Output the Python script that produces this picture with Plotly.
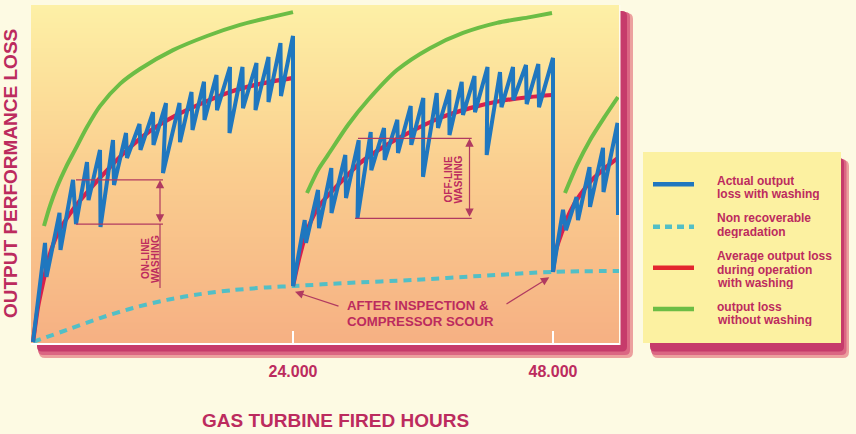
import plotly.graph_objects as go

# ---------------- data (fired hours, output loss %) ----------------
blue_hours = [0, 1108, 1246, 2446, 2538, 3692, 3969, 4984, 5123, 6184, 6231, 7384, 7477,
              8584, 8676, 9830, 9923, 11076, 11122, 12276, 12000, 13522, 13569, 14630, 14723,
              15784, 15830, 16938, 16984, 18183, 18137, 19337, 19383, 20629, 20537, 21737,
              21737, 22844, 22890, 24000, 24000,
              25080, 25200, 26308, 26400, 27535, 27554, 28827, 28892, 30065, 29954, 31172,
              31228, 32400, 32464, 33627, 33692, 34863, 34918, 36028, 36000, 37264, 37385,
              38427, 38445, 39570, 39690, 40752, 40800, 41954, 41880, 43107, 43246, 44308,
              44335, 45506, 45571, 46643, 46708, 48000, 48000,
              48923, 49200, 50169, 50308, 51369, 51415, 52615, 52661, 53954, 54000]
blue_loss = [0, 2.94, 1.93, 3.83, 2.73, 4.81, 3.50, 5.34, 4.21, 5.70, 3.41, 5.99, 4.66,
             6.20, 5.46, 6.47, 5.70, 6.82, 5.85, 7.09, 5.01, 7.09, 5.93, 7.42, 6.29,
             7.72, 6.59, 7.92, 6.88, 8.16, 6.20, 8.16, 6.94, 8.28, 6.88, 8.46,
             7.12, 8.87, 7.30, 9.08, 1.66,
             3.62, 2.94, 4.51, 3.38, 5.16, 3.83, 5.55, 4.27, 5.99, 3.68, 6.23,
             5.10, 6.35, 5.40, 6.59, 5.61, 7.00, 5.85, 7.24, 4.90, 7.39, 6.35,
             7.48, 6.14, 7.72, 6.74, 7.89, 6.82, 8.16, 5.55, 8.01, 6.97, 8.16,
             7.18, 8.22, 7.06, 8.25, 6.97, 8.43, 2.08,
             3.92, 3.32, 4.30, 3.62, 5.19, 4.01, 5.76, 4.45, 6.50, 3.77]

red_hours = [0, 157, 462, 923, 1500, 2308, 3877, 6184, 8492, 10800, 13108, 15415, 18184,
             20953, 23907, None,
             24000, 24646, 25384, 26492, 28154, 30184, 32492, 34800, 37569, 40338, 43107,
             45876, 47907, None,
             48000, 48277, 48830, 49569, 50492, 51600, 52800, 54000]
red_loss = [0, 0.36, 1.04, 1.75, 2.55, 3.23, 4.01, 4.87, 5.64, 6.26, 6.71, 7.06, 7.42,
            7.66, 7.83, None,
            1.66, 2.58, 3.38, 4.07, 4.66, 5.31, 5.82, 6.23, 6.65, 6.94, 7.15,
            7.27, 7.33, None,
            2.08, 2.73, 3.26, 3.86, 4.36, 4.81, 5.16, 5.46]

green_hours = [1015, 1569, 2215, 3046, 3877, 4985, 6184, 8030, 9876, 12922, 16060, 19106,
               21598, 24000, None,
               25292, 26307, 27230, 29076, 30922, 33599, 36645, 39692, 42830, 45876, 47907,
               None,
               49104, 50212, 51412, 52704, 53996]
green_loss = [3.44, 4.04, 4.60, 5.19, 5.70, 6.38, 7.00, 7.66, 8.10, 8.66, 9.08, 9.41,
              9.61, 9.79, None,
              4.42, 5.10, 5.55, 6.44, 7.18, 8.07, 8.72, 9.17, 9.47, 9.64, 9.76,
              None,
              4.42, 5.25, 5.99, 6.65, 7.27]

cyan_hours = [0, 3138, 6185, 9231, 12369, 15415, 18462, 21600, 24000, 28985, 35077,
              41262, 48000, 54092]
cyan_loss = [0, 0.36, 0.71, 1.01, 1.25, 1.42, 1.54, 1.62, 1.66, 1.75, 1.84, 1.96, 2.08, 2.11]

tick_values = [24000, 48000]
tick_labels = ["24.000", "48.000"]

legend_texts = [["Actual output", "loss with washing"],
                ["Non recoverable", "degradation"],
                ["Average output loss", "during operation", "with washing"],
                ["output loss", "without washing"]]

x_title = "GAS TURBINE FIRED HOURS"
y_title = "OUTPUT PERFORMANCE LOSS"
scour_text = ["AFTER INSPECTION &", "COMPRESSOR SCOUR"]

# ---------------- style ----------------
W, H = 856, 434
L, R, T, B = 31, 619, 5, 343
XR = [-185, 54092]
YR = [-0.03, 10.0]

BLUE = "#1f77bf"
RED = "#d81f4d"
RED_LEG = "#e3262e"
GREEN = "#6cbd45"
CYAN = "#52bfc6"
TXT = "#bc2b5e"
ANN = "#b13a60"
FONT = "Liberation Sans, Arial, sans-serif"
PAGE = "#fdfae3"


def PX(p):
    return (p - L) / (R - L)


def PY(p):
    return (B - p) / (B - T)


def rrect(x0, y0, x1, y1, r):
    return (f"M {PX(x0 + r)},{PY(y0)} L {PX(x1 - r)},{PY(y0)} "
            f"Q {PX(x1)},{PY(y0)} {PX(x1)},{PY(y0 + r)} L {PX(x1)},{PY(y1 - r)} "
            f"Q {PX(x1)},{PY(y1)} {PX(x1 - r)},{PY(y1)} L {PX(x0 + r)},{PY(y1)} "
            f"Q {PX(x0)},{PY(y1)} {PX(x0)},{PY(y1 - r)} L {PX(x0)},{PY(y0 + r)} "
            f"Q {PX(x0)},{PY(y0)} {PX(x0 + r)},{PY(y0)} Z")


fig = go.Figure()

# background gradient of the plotting panel
grad_levels = [-1, 0, 2.5, 5, 7.5, 10, 11]
fig.add_trace(go.Heatmap(
    x=[-3000, 60000], y=grad_levels, z=[[v, v] for v in grad_levels],
    zmin=0, zmax=10, zsmooth="best", showscale=False, hoverinfo="skip",
    colorscale=[[0, "#f6b083"], [0.25, "#f8bf89"], [0.5, "#facd8f"],
                [0.75, "#fcdf99"], [1, "#fdf0a6"]]))

fig.add_trace(go.Scatter(x=green_hours, y=green_loss, mode="lines",
                         line=dict(color=GREEN, width=4, shape="spline", smoothing=0.8),
                         connectgaps=False, hoverinfo="skip"))
fig.add_trace(go.Scatter(x=cyan_hours, y=cyan_loss, mode="lines",
                         line=dict(color=CYAN, width=4, dash="8px,6px", shape="spline",
                                   smoothing=0.8),
                         hoverinfo="skip"))
fig.add_trace(go.Scatter(x=red_hours, y=red_loss, mode="lines",
                         line=dict(color=RED, width=4.2, shape="spline", smoothing=0.8),
                         connectgaps=False, hoverinfo="skip"))
fig.add_trace(go.Scatter(x=blue_hours, y=blue_loss, mode="lines",
                         line=dict(color=BLUE, width=4), hoverinfo="skip"))

shapes = []


def pshape(path, color):
    shapes.append(dict(type="path", xref="paper", yref="paper", path=path,
                       fillcolor=color, line=dict(width=0), layer="below"))


# drop shadow of plot panel
pshape(rrect(39, 13, 633, 358, 6), "#eca09e")
pshape(rrect(38, 12, 630, 355, 5), "#db6683")
pshape(rrect(37, 11, 627, 351.5, 5), "#c63b6b")
shapes.append(dict(type="rect", xref="paper", yref="paper", x0=PX(31), x1=PX(620.5),
                   y0=PY(345), y1=PY(5), fillcolor="#fffbee", line=dict(width=0),
                   layer="below"))
# legend box
pshape(rrect(652, 160, 849, 358, 6), "#eca09e")
pshape(rrect(651, 159, 846.5, 355, 5), "#db6683")
pshape(rrect(650, 158, 844, 351.5, 5), "#c63b6b")
shapes.append(dict(type="rect", xref="paper", yref="paper", x0=PX(643), x1=PX(841),
                   y0=PY(343), y1=PY(152), fillcolor="#fcf1a1", line=dict(width=0),
                   layer="below"))

leg_line_y = [184.3, 226.7, 267.7, 309]
leg_styles = [dict(color=BLUE, width=4.5), dict(color=CYAN, width=4.5, dash="7px,5px"),
              dict(color=RED_LEG, width=4.5), dict(color=GREEN, width=4.5)]
for yy, st in zip(leg_line_y, leg_styles):
    shapes.append(dict(type="line", xref="paper", yref="paper", x0=PX(653), x1=PX(694),
                       y0=PY(yy), y1=PY(yy), line=st))


# washing brackets (data coords)
def dline(x0, y0, x1, y1):
    shapes.append(dict(type="line", xref="x", yref="y", x0=x0, y0=y0, x1=x1, y1=y1,
                       line=dict(color=ANN, width=1.2), layer="above"))


dline(3969, 4.81, 12000, 4.81)
dline(3969, 3.50, 12000, 3.50)
dline(11723, 3.50, 11723, 1.60)
dline(30000, 6.04, 40495, 6.04)
dline(29723, 3.67, 40495, 3.67)

ann = []


def arrow(x, y, ax, ay, both=False):
    ann.append(dict(x=x, y=y, ax=ax, ay=ay, xref="x", yref="y", axref="x", ayref="y",
                    text="", showarrow=True, arrowhead=2, arrowsize=1.4, arrowwidth=1.2,
                    arrowcolor=ANN, standoff=0, startstandoff=0,
                    arrowside="end+start" if both else "end"))


arrow(11723, 4.81, 11723, 3.50, both=True)
arrow(40292, 6.04, 40292, 3.67, both=True)
arrow(24184, 1.49, 28338, 1.05)
arrow(47658, 1.92, 43569, 1.10)


def dtext(x, y, s, size, angle=0, xanchor="center", h=None):
    d = dict(x=x, y=y, xref="x", yref="y", text=s, showarrow=False,
             textangle=angle, xanchor=xanchor, yanchor="middle",
             font=dict(family=FONT, size=size, color=TXT, weight="bold"))
    if h:
        d["height"] = h
    ann.append(d)


dtext(10338, 2.46, "ON-LINE", 10, -90)
dtext(11262, 2.46, "WASHING", 10, -90)
dtext(38354, 4.81, "OFF-LINE", 10, -90)
dtext(39277, 4.81, "WASHING", 10, -90)
dtext(28800, 1.09, scour_text[0], 13.2, xanchor="left", h=14)
dtext(28800, 0.63, scour_text[1], 13.2, xanchor="left", h=14)


def ptext(px, py, s, size, angle=0, xanchor="center", h=None):
    d = dict(x=PX(px), y=PY(py), xref="paper", yref="paper", text=s,
             showarrow=False, textangle=angle, xanchor=xanchor, yanchor="middle",
             font=dict(family=FONT, size=size, color=TXT, weight="bold"))
    if h:
        d["height"] = h
    ann.append(d)


leg_text_y = [[180, 193.5], [217.75, 231.25], [255.75, 269.25, 282.75], [306.25, 319.75]]
for lines, ys in zip(legend_texts, leg_text_y):
    for s, yy in zip(lines, ys):
        ptext(715, yy, s, 12, xanchor="left", h=13)

ptext(10.5, 173.5, y_title, 19, angle=-90)
ptext(335, 420, x_title, 19)

fig.update_layout(
    width=W, height=H, margin=dict(l=L, r=W - R, t=T, b=H - B, pad=0),
    paper_bgcolor=PAGE, plot_bgcolor="rgba(0,0,0,0)", showlegend=False,
    shapes=shapes, annotations=ann,
    xaxis=dict(range=XR, tickvals=tick_values, ticktext=tick_labels, ticks="inside",
               ticklen=12, tickwidth=2, tickcolor="white", showline=True,
               linecolor="white", linewidth=2, showgrid=False, zeroline=False,
               ticklabelstandoff=13,
               tickfont=dict(family=FONT, size=16, color=TXT, weight="bold")),
    yaxis=dict(range=YR, showticklabels=False, showgrid=False, zeroline=False,
               showline=False, ticks=""),
)

fig.write_html("out.html")
